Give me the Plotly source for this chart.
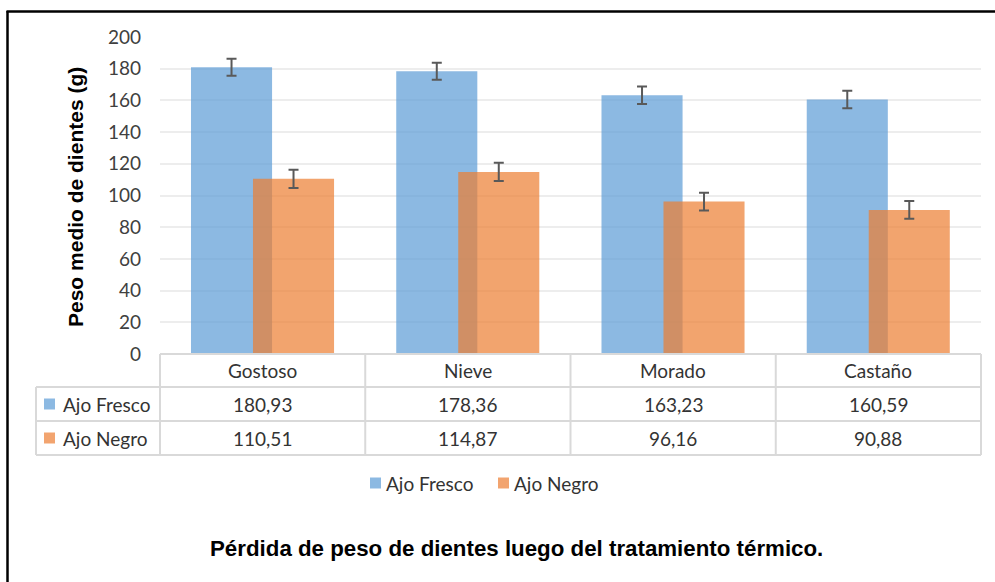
import plotly.graph_objects as go

# ---------------- data ----------------
categories = ["Gostoso", "Nieve", "Morado", "Castaño"]
series_names = ["Ajo Fresco", "Ajo Negro"]
ajo_fresco = [180.93, 178.36, 163.23, 160.59]
ajo_negro = [110.51, 114.87, 96.16, 90.88]
err_fresco = [5.4, 5.4, 5.5, 5.5]
err_negro = [5.7, 5.8, 5.6, 5.6]
y_ticks = [0, 20, 40, 60, 80, 100, 120, 140, 160, 180, 200]
y_title = "Peso medio de dientes (g)"
chart_title = "Pérdida de peso de dientes luego del tratamiento térmico."

# ---------------- style ----------------
W, H = 995, 582
BLUE = "rgba(91,155,213,0.70)"
ORANGE = "rgba(237,125,49,0.70)"
BLUE_KEY = "#8CB9E2"
ORANGE_KEY = "#F2A46F"
GRID = "#EDEDED"
TABLE_LINE = "#D9D9D9"
TXT = "#333333"
FONT = "Lato"
TITLE_FONT = "Liberation Sans"


def px(x):
    return x / W


def py(y):
    return 1 - y / H


plot_left, plot_right = 160, 981
plot_top, plot_bottom = 37, 354
row_lines = [354, 387, 421, 455]
row_centers = [(row_lines[i] + row_lines[i + 1]) / 2 for i in range(3)]

xpos = list(range(len(categories)))
bar_w = 0.395

fig = go.Figure()
fig.add_trace(go.Bar(
    x=xpos, y=ajo_fresco, name=series_names[0], width=bar_w, offset=-0.349,
    marker=dict(color=BLUE, line=dict(width=0)),
    error_y=dict(type="data", array=err_fresco, color="#595959", thickness=2, width=5),
    showlegend=False,
))
fig.add_trace(go.Bar(
    x=xpos, y=ajo_negro, name=series_names[1], width=bar_w, offset=-0.047,
    marker=dict(color=ORANGE, line=dict(width=0)),
    error_y=dict(type="data", array=err_negro, color="#595959", thickness=2, width=5),
    showlegend=False,
))

fig.update_layout(
    width=W, height=H,
    autosize=False,
    margin=dict(l=0, r=0, t=0, b=0, pad=0, autoexpand=False),
    paper_bgcolor="white", plot_bgcolor="white",
    barmode="overlay",
    xaxis=dict(domain=[px(plot_left), px(plot_right)], range=[-0.5, len(categories) - 0.5],
               showticklabels=False, showgrid=False, zeroline=False, showline=False,
               fixedrange=True, automargin=False),
    yaxis=dict(domain=[py(plot_bottom), py(plot_top)], range=[0, 200],
               tickvals=y_ticks, ticktext=[str(v) for v in y_ticks],
               showgrid=True, gridcolor=GRID, gridwidth=1.5,
               zeroline=False, showline=False, ticks="",
               tickfont=dict(family=FONT, size=19, color="#404040"),
               ticklabelstandoff=18, fixedrange=True, automargin=False),
)

shapes = []
# outer frame (chart border)
shapes.append(dict(type="line", xref="paper", yref="paper", x0=px(7.5), x1=px(7.5),
                   y0=0, y1=py(11), line=dict(color="black", width=2.5)))
shapes.append(dict(type="line", xref="paper", yref="paper", x0=px(6.5), x1=1,
                   y0=py(11.5), y1=py(11.5), line=dict(color="black", width=2.5)))

# data table lines
ncat = len(categories)
left_col = (36 - plot_left) / (plot_right - plot_left)
shapes.append(dict(type="line", xref="x domain", yref="paper", x0=0, x1=1,
                   y0=py(row_lines[0]), y1=py(row_lines[0]),
                   line=dict(color=TABLE_LINE, width=2)))
for yl in row_lines[1:]:
    shapes.append(dict(type="line", xref="x domain", yref="paper", x0=left_col, x1=1,
                       y0=py(yl), y1=py(yl), line=dict(color=TABLE_LINE, width=2)))
for i in range(ncat + 1):
    shapes.append(dict(type="line", xref="x domain", yref="paper", x0=i / ncat, x1=i / ncat,
                       y0=py(row_lines[0]), y1=py(row_lines[-1]),
                       line=dict(color=TABLE_LINE, width=2)))
shapes.append(dict(type="line", xref="x domain", yref="paper", x0=left_col, x1=left_col,
                   y0=py(row_lines[1]), y1=py(row_lines[-1]),
                   line=dict(color=TABLE_LINE, width=2)))

annotations = []


def ann(x, y, text, xref="paper", xanchor="center", **kw):
    d = dict(x=x, y=y, xref=xref, yref="paper", text=text, showarrow=False,
             xanchor=xanchor, yanchor="middle")
    d.update(kw)
    return d


cell_font = dict(family=FONT, size=19, color=TXT)
for i, c in enumerate(categories):
    annotations.append(ann(i, py(row_centers[0]), c, xref="x", font=cell_font))


def fmt(v):
    return f"{v:.2f}".replace(".", ",")


for r, vals in enumerate([ajo_fresco, ajo_negro]):
    for i, v in enumerate(vals):
        annotations.append(ann(i, py(row_centers[r + 1]), fmt(v), xref="x", font=cell_font))

# table legend keys
for r, (name, col) in enumerate(zip(series_names, [BLUE_KEY, ORANGE_KEY])):
    yc = row_centers[r + 1]
    shapes.append(dict(type="rect", xref="paper", yref="paper", x0=px(44), x1=px(55),
                       y0=py(yc + 5.5), y1=py(yc - 5.5), fillcolor=col, line=dict(width=0)))
    annotations.append(ann(px(61), py(yc), name, xanchor="left", font=cell_font))

# bottom legend
leg_y = 483
for (name, col, sx) in zip(series_names, [BLUE_KEY, ORANGE_KEY], [370, 498]):
    shapes.append(dict(type="rect", xref="paper", yref="paper", x0=px(sx), x1=px(sx + 11),
                       y0=py(leg_y + 5.5), y1=py(leg_y - 5.5), fillcolor=col, line=dict(width=0)))
    annotations.append(ann(px(sx + 14), py(leg_y), name, xanchor="left", font=cell_font))

# y-axis title
annotations.append(ann(px(75), py(197), f"<b>{y_title}</b>", textangle=-90,
                       font=dict(family=TITLE_FONT, size=21, color="black")))
# chart title (bottom)
annotations.append(ann(px(516), py(548), f"<b>{chart_title}</b>",
                       font=dict(family=TITLE_FONT, size=22.3, color="black")))

fig.update_layout(shapes=shapes, annotations=annotations)
fig.write_html("out.html", config={"displayModeBar": False},
               post_script="document.body.style.margin='0';document.body.style.overflow='hidden';")
